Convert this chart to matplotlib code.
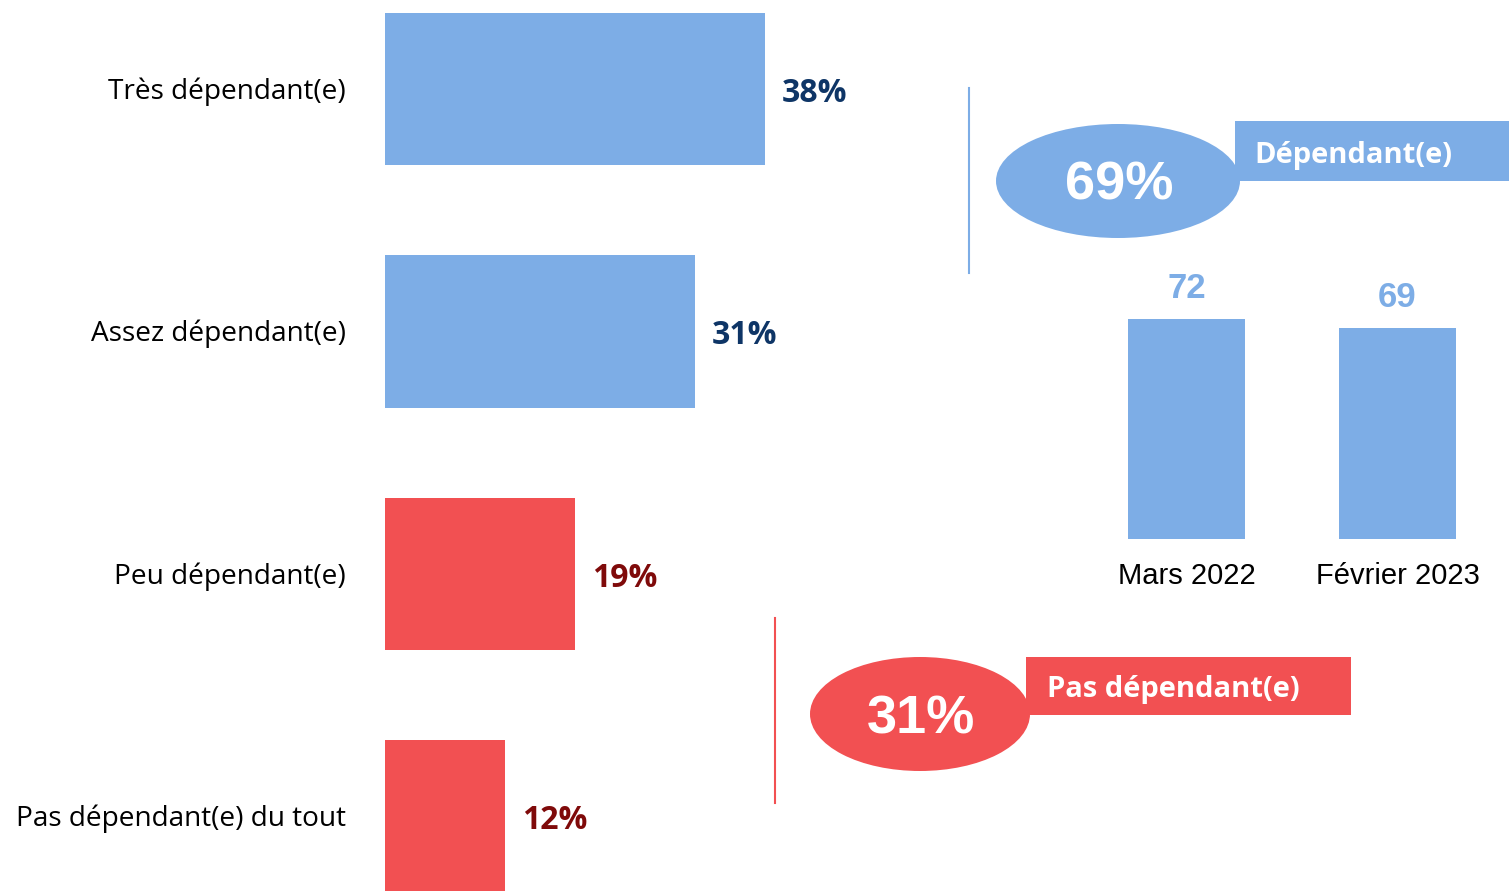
import matplotlib
matplotlib.use("Agg")
import matplotlib.pyplot as plt
from matplotlib.patches import Ellipse, Rectangle

# ---- data ----
categories = ["Très dépendant(e)", "Assez dépendant(e)", "Peu dépendant(e)", "Pas dépendant(e) du tout"]
values = [38, 31, 19, 12]
value_labels = ["38%", "31%", "19%", "12%"]
groups = ["blue", "blue", "red", "red"]

trend_periods = ["Mars 2022", "Février 2023"]
trend_values = [72, 69]

total_dep_label = "69%"
total_dep_name = "Dépendant(e)"
total_nodep_label = "31%"
total_nodep_name = "Pas dépendant(e)"

BLUE = "#7DADE6"
RED = "#F25052"
DARK_BLUE = "#0E3566"
DARK_RED = "#7F0A0A"
CAL = "Open Sans"

W, H = 1509, 891
fig = plt.figure(figsize=(W / 100, H / 100), dpi=100)

def px_axes(x0, y0, x1, y1):
    return fig.add_axes([x0 / W, 1 - y1 / H, (x1 - x0) / W, (y1 - y0) / H])

# ---- main horizontal bars ----
ax = px_axes(385, 0, 1385, 891)
spacing = 242.5
c0 = 89
ax.set_xlim(0, 100)
ax.set_ylim((H - c0) / spacing, -c0 / spacing)
ypos = list(range(len(categories)))
colors = [BLUE if g == "blue" else RED for g in groups]
ax.barh(ypos, values, height=0.628, color=colors)
for y, v, lab, g in zip(ypos, values, value_labels, groups):
    ax.text(v + 1.7, y + 0.018, lab, ha="left", va="center", fontsize=23,
            fontweight="bold", family=CAL,
            color=DARK_BLUE if g == "blue" else DARK_RED)
for y, cat in zip(ypos, categories):
    ax.text(-3.9, y + 0.01, cat, ha="right", va="center", fontsize=20.2, family=CAL, color="black")
ax.axis("off")

# ---- trend bars ----
ax2 = px_axes(1081, 233, 1503, 539)
ax2.set_xlim(-0.5, 1.5)
ax2.set_ylim(0, 100)
xs = list(range(len(trend_periods)))
ax2.bar(xs, trend_values, width=0.555, color=BLUE)
for x, v, per in zip(xs, trend_values, trend_periods):
    ax2.text(x, v + 4.5, str(v), ha="center", va="bottom", fontsize=25, fontweight="bold",
             family="Liberation Sans", color=BLUE)
    ax2.text(x, -7.5, per, ha="center", va="top", fontsize=21,
             family="Liberation Sans", color="black")
ax2.axis("off")

# ---- badges overlay ----
ov = fig.add_axes([0, 0, 1, 1], zorder=5)
ov.set_xlim(0, W)
ov.set_ylim(H, 0)
ov.axis("off")
ov.patch.set_alpha(0)

# blue badge
ov.plot([969, 969], [88, 273], color=BLUE, lw=1.5)
ov.add_patch(Rectangle((1235, 121), 300, 60, color=BLUE, lw=0))
ov.add_patch(Ellipse((1118, 181), 244, 114, color=BLUE, lw=0))
ov.text(1353, 155, total_dep_name, ha="center", va="center", fontsize=21,
        fontweight="bold", family=CAL, color="white")
ov.text(1119, 185, total_dep_label, ha="center", va="center", fontsize=39,
        fontweight="bold", family="Liberation Sans", color="white")

# red badge
ov.plot([775, 775], [618, 803], color=RED, lw=1.5)
ov.add_patch(Rectangle((1026, 657), 325, 58, color=RED, lw=0))
ov.add_patch(Ellipse((920, 714), 220, 114, color=RED, lw=0))
ov.text(1173, 689, total_nodep_name, ha="center", va="center", fontsize=21,
        fontweight="bold", family=CAL, color="white")
ov.text(921, 719, total_nodep_label, ha="center", va="center", fontsize=39,
        fontweight="bold", family="Liberation Sans", color="white")

fig.savefig("out.png", dpi=100)
